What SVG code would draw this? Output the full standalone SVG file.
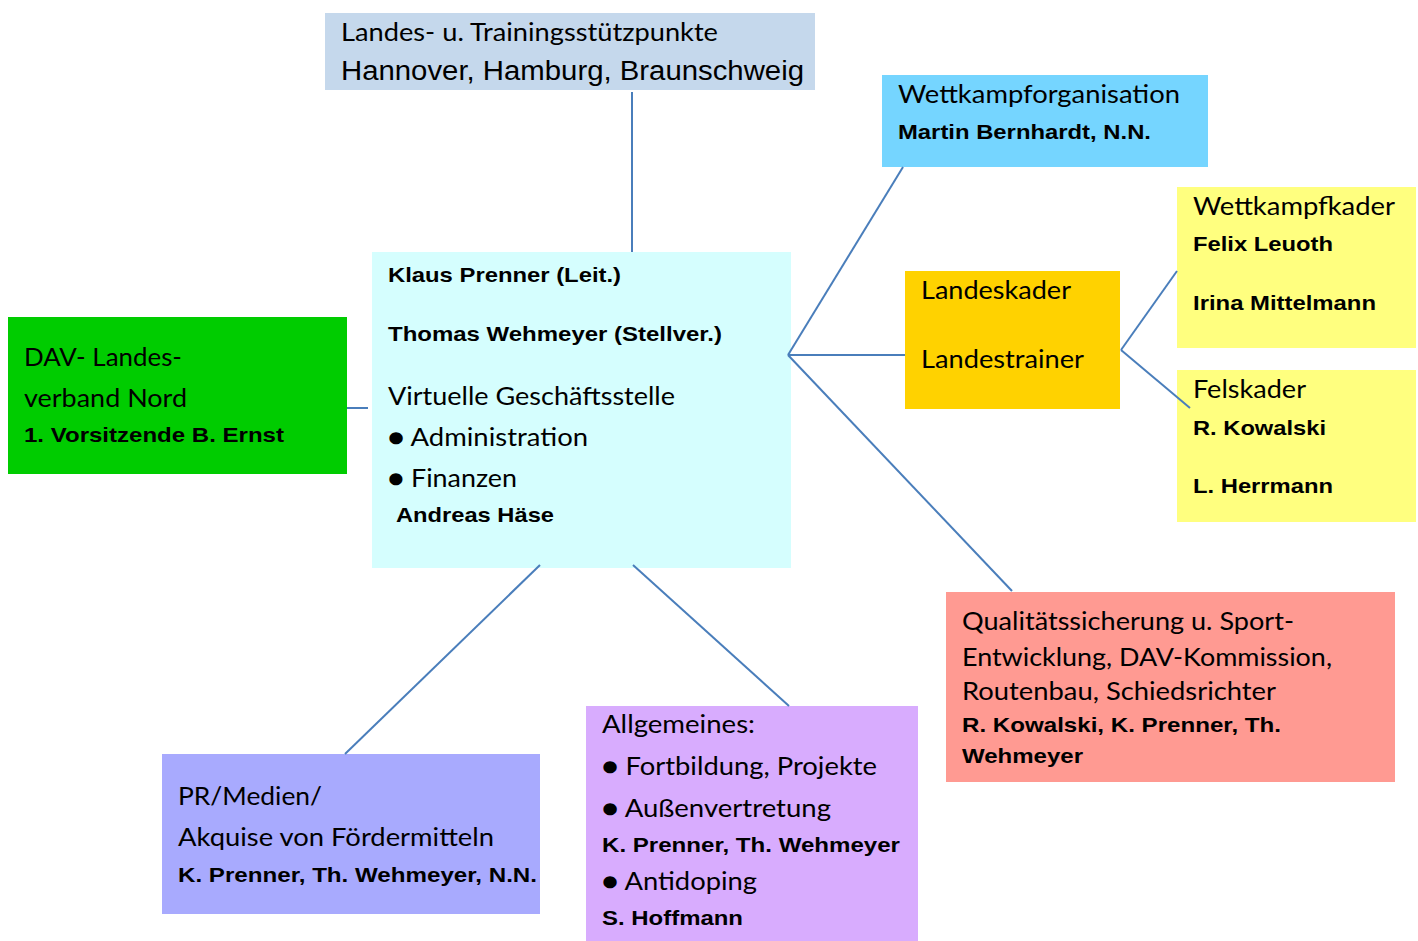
<svg xmlns="http://www.w3.org/2000/svg" width="1418" height="941" viewBox="0 0 1418 941">
<style>
.t{font-family:Lato,"Open Sans",sans-serif;font-size:25px;fill:#000}
.b{font-family:"Liberation Sans",Arial,sans-serif;font-weight:bold;font-size:21px;fill:#000}
.a{font-family:"Liberation Sans",Arial,sans-serif;font-size:27px;fill:#000}
.c{stroke:#4A7EBB;stroke-width:2;fill:none}
</style>
<rect width="1418" height="941" fill="#fff"/>
<g id="stuetzpunkte">
<rect x="325" y="13" width="490" height="77" fill="#C5D8EC"/>
<text class="t" x="341" y="41" textLength="377" lengthAdjust="spacingAndGlyphs">Landes- u. Trainingsstützpunkte</text>
<text class="a" x="341" y="80" textLength="463" lengthAdjust="spacingAndGlyphs">Hannover, Hamburg, Braunschweig</text>
</g>
<g id="leitung">
<rect x="372" y="252" width="419" height="316" fill="#D5FEFE"/>
<text class="b" x="388" y="282" textLength="233" lengthAdjust="spacingAndGlyphs">Klaus Prenner (Leit.)</text>
<text class="b" x="388" y="341" textLength="334" lengthAdjust="spacingAndGlyphs">Thomas Wehmeyer (Stellver.)</text>
<text class="t" x="388" y="405" textLength="287" lengthAdjust="spacingAndGlyphs">Virtuelle Geschäftsstelle</text>
<text class="t" x="388" y="446" textLength="200" lengthAdjust="spacingAndGlyphs">● Administration</text>
<text class="t" x="388" y="487" textLength="129" lengthAdjust="spacingAndGlyphs">● Finanzen</text>
<text class="b" x="396" y="522" textLength="158" lengthAdjust="spacingAndGlyphs">Andreas Häse</text>
</g>
<g id="landesverband">
<rect x="8" y="317" width="339" height="157" fill="#00CC00"/>
<text class="t" x="24" y="366" textLength="158" lengthAdjust="spacingAndGlyphs">DAV- Landes-</text>
<text class="t" x="24" y="407" textLength="163" lengthAdjust="spacingAndGlyphs">verband Nord</text>
<text class="b" x="24" y="442" textLength="260" lengthAdjust="spacingAndGlyphs">1. Vorsitzende B. Ernst</text>
</g>
<g id="wettkampforganisation">
<rect x="882" y="75" width="326" height="92" fill="#75D5FF"/>
<text class="t" x="898" y="103" textLength="282" lengthAdjust="spacingAndGlyphs">Wettkampforganisation</text>
<text class="b" x="898" y="139" textLength="253" lengthAdjust="spacingAndGlyphs">Martin Bernhardt, N.N.</text>
</g>
<g id="landeskader">
<rect x="905" y="271" width="215" height="138" fill="#FFD200"/>
<text class="t" x="921" y="299" textLength="150" lengthAdjust="spacingAndGlyphs">Landeskader</text>
<text class="t" x="921" y="368" textLength="163" lengthAdjust="spacingAndGlyphs">Landestrainer</text>
</g>
<g id="wettkampfkader">
<rect x="1177" y="187" width="239" height="161" fill="#FFFF7F"/>
<text class="t" x="1193" y="215" textLength="202" lengthAdjust="spacingAndGlyphs">Wettkampfkader</text>
<text class="b" x="1193" y="251" textLength="140" lengthAdjust="spacingAndGlyphs">Felix Leuoth</text>
<text class="b" x="1193" y="310" textLength="183" lengthAdjust="spacingAndGlyphs">Irina Mittelmann</text>
</g>
<g id="felskader">
<rect x="1177" y="370" width="239" height="152" fill="#FFFF7F"/>
<text class="t" x="1193" y="398" textLength="113" lengthAdjust="spacingAndGlyphs">Felskader</text>
<text class="b" x="1193" y="435" textLength="133" lengthAdjust="spacingAndGlyphs">R. Kowalski</text>
<text class="b" x="1193" y="493" textLength="140" lengthAdjust="spacingAndGlyphs">L. Herrmann</text>
</g>
<g id="qualitaet">
<rect x="946" y="592" width="449" height="190" fill="#FF9A92"/>
<text class="t" x="962" y="630" textLength="332" lengthAdjust="spacingAndGlyphs">Qualitätssicherung u. Sport-</text>
<text class="t" x="962" y="666" textLength="370" lengthAdjust="spacingAndGlyphs">Entwicklung, DAV-Kommission,</text>
<text class="t" x="962" y="700" textLength="314" lengthAdjust="spacingAndGlyphs">Routenbau, Schiedsrichter</text>
<text class="b" x="962" y="732" textLength="319" lengthAdjust="spacingAndGlyphs">R. Kowalski, K. Prenner, Th.</text>
<text class="b" x="962" y="763" textLength="121" lengthAdjust="spacingAndGlyphs">Wehmeyer</text>
</g>
<g id="medien">
<rect x="162" y="754" width="378" height="160" fill="#A8AAFE"/>
<text class="t" x="178" y="805" textLength="144" lengthAdjust="spacingAndGlyphs">PR/Medien/</text>
<text class="t" x="178" y="846" textLength="316" lengthAdjust="spacingAndGlyphs">Akquise von Fördermitteln</text>
<text class="b" x="178" y="882" textLength="359" lengthAdjust="spacingAndGlyphs">K. Prenner, Th. Wehmeyer, N.N.</text>
</g>
<g id="allgemeines">
<rect x="586" y="706" width="332" height="235" fill="#D8ACFE"/>
<text class="t" x="602" y="733" textLength="153" lengthAdjust="spacingAndGlyphs">Allgemeines:</text>
<text class="t" x="602" y="775" textLength="275" lengthAdjust="spacingAndGlyphs">● Fortbildung, Projekte</text>
<text class="t" x="602" y="817" textLength="229" lengthAdjust="spacingAndGlyphs">● Außenvertretung</text>
<text class="b" x="602" y="852" textLength="298" lengthAdjust="spacingAndGlyphs">K. Prenner, Th. Wehmeyer</text>
<text class="t" x="602" y="890" textLength="155" lengthAdjust="spacingAndGlyphs">● Antidoping</text>
<text class="b" x="602" y="925" textLength="141" lengthAdjust="spacingAndGlyphs">S. Hoffmann</text>
</g>
<g id="connectors">
<line class="c" x1="632" y1="92" x2="632" y2="252"/>
<line class="c" x1="347" y1="408" x2="368" y2="408"/>
<line class="c" x1="788" y1="355" x2="903" y2="167"/>
<line class="c" x1="788" y1="355" x2="905" y2="355"/>
<line class="c" x1="788" y1="355" x2="1012" y2="591"/>
<line class="c" x1="1121" y1="350" x2="1177" y2="271"/>
<line class="c" x1="1121" y1="350" x2="1190" y2="408"/>
<line class="c" x1="540" y1="565" x2="345" y2="754"/>
<line class="c" x1="633" y1="565" x2="789" y2="706"/>
</g>
</svg>
